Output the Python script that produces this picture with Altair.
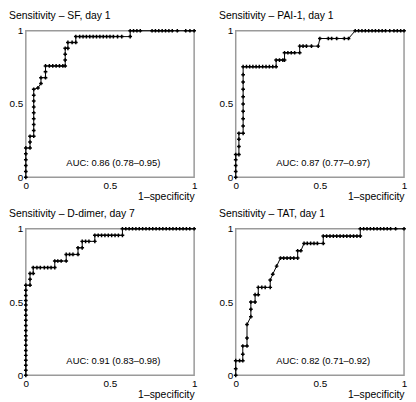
import altair as alt
import pandas as pd

FONT = "Liberation Sans"

titles = [
    "Sensitivity – SF, day 1",
    "Sensitivity – PAI-1, day 1",
    "Sensitivity – D-dimer, day 7",
    "Sensitivity – TAT, day 1",
]
auc_labels = [
    "AUC: 0.86 (0.78–0.95)",
    "AUC: 0.87 (0.77–0.97)",
    "AUC: 0.91 (0.83–0.98)",
    "AUC: 0.82 (0.71–0.92)",
]
x_title = "1–specificity"
tick_values = [0, 0.5, 1]

# (1-specificity, sensitivity) points
sf_points = [
    (0, 0), (0, 0.04), (0, 0.08), (0, 0.12), (0, 0.16), (0, 0.2),
    (0.025, 0.2), (0.025, 0.24), (0.025, 0.28),
    (0.047, 0.28), (0.047, 0.32), (0.047, 0.36), (0.047, 0.40), (0.047, 0.44),
    (0.047, 0.48), (0.047, 0.52), (0.047, 0.56), (0.047, 0.60),
    (0.072, 0.61), (0.09, 0.64), (0.09, 0.68),
    (0.117, 0.68), (0.117, 0.72), (0.117, 0.76),
    (0.14, 0.76), (0.16, 0.76), (0.18, 0.76), (0.20, 0.76), (0.22, 0.76), (0.234, 0.76),
    (0.234, 0.80), (0.234, 0.84), (0.234, 0.88),
    (0.25, 0.88), (0.25, 0.92), (0.275, 0.92), (0.297, 0.92), (0.297, 0.96),
    (0.32, 0.96), (0.34, 0.96), (0.36, 0.96), (0.38, 0.96), (0.40, 0.96), (0.42, 0.96),
    (0.44, 0.96), (0.46, 0.96), (0.48, 0.96), (0.50, 0.96), (0.52, 0.96), (0.545, 0.96),
    (0.57, 0.96), (0.62, 0.96),
    (0.62, 1.0), (0.64, 1.0), (0.66, 1.0), (0.68, 1.0),
    (0.75, 1.0), (0.77, 1.0), (0.79, 1.0), (0.81, 1.0), (0.83, 1.0), (0.85, 1.0),
    (0.87, 1.0), (0.90, 1.0), (0.95, 1.0), (0.975, 1.0), (1.0, 1.0),
]
pai_points = [
    (0, 0), (0, 0.04), (0, 0.08), (0, 0.12), (0, 0.155),
    (0.019, 0.155), (0.019, 0.21), (0.019, 0.26), (0.019, 0.30),
    (0.044, 0.30), (0.044, 0.35), (0.044, 0.40), (0.044, 0.45), (0.044, 0.50),
    (0.044, 0.55), (0.044, 0.60), (0.044, 0.65), (0.044, 0.70), (0.044, 0.755),
    (0.064, 0.755), (0.083, 0.755), (0.102, 0.755), (0.121, 0.755), (0.14, 0.755),
    (0.16, 0.755), (0.18, 0.755), (0.20, 0.755), (0.22, 0.755), (0.24, 0.755),
    (0.24, 0.80), (0.26, 0.80), (0.28, 0.80),
    (0.29, 0.80), (0.29, 0.85), (0.31, 0.85), (0.33, 0.85), (0.35, 0.85), (0.38, 0.85),
    (0.38, 0.895), (0.40, 0.895), (0.42, 0.895), (0.45, 0.895), (0.49, 0.895),
    (0.50, 0.947), (0.55, 0.947), (0.57, 0.947), (0.60, 0.947), (0.645, 0.947), (0.67, 0.947),
    (0.71, 1.0), (0.73, 1.0), (0.75, 1.0), (0.77, 1.0), (0.79, 1.0), (0.81, 1.0),
    (0.83, 1.0), (0.85, 1.0), (0.87, 1.0), (0.89, 1.0), (0.915, 1.0), (0.94, 1.0),
    (0.96, 1.0), (0.98, 1.0), (1.0, 1.0),
]
dd_points = [
    (0, 0), (0, 0.034), (0, 0.068), (0, 0.102), (0, 0.136), (0, 0.17), (0, 0.205),
    (0, 0.24), (0, 0.27), (0, 0.305), (0, 0.34), (0, 0.375), (0, 0.41), (0, 0.445),
    (0, 0.48), (0, 0.51), (0, 0.545), (0, 0.58), (0, 0.615),
    (0.025, 0.615), (0.025, 0.655), (0.025, 0.695), (0.044, 0.695), (0.044, 0.735),
    (0.066, 0.735), (0.086, 0.735), (0.11, 0.735), (0.13, 0.735), (0.15, 0.735), (0.172, 0.735),
    (0.172, 0.78), (0.19, 0.78), (0.21, 0.78), (0.24, 0.78),
    (0.24, 0.825), (0.26, 0.825), (0.28, 0.825), (0.31, 0.825),
    (0.31, 0.87), (0.335, 0.87), (0.335, 0.914), (0.355, 0.914), (0.375, 0.914), (0.41, 0.914),
    (0.41, 0.955), (0.43, 0.955), (0.45, 0.955), (0.47, 0.955), (0.49, 0.955),
    (0.51, 0.955), (0.53, 0.955), (0.55, 0.955), (0.574, 0.955),
    (0.574, 1.0), (0.594, 1.0), (0.614, 1.0), (0.634, 1.0), (0.654, 1.0), (0.674, 1.0),
    (0.694, 1.0), (0.714, 1.0), (0.734, 1.0), (0.754, 1.0), (0.774, 1.0), (0.794, 1.0),
    (0.814, 1.0), (0.834, 1.0), (0.854, 1.0), (0.874, 1.0), (0.894, 1.0), (0.914, 1.0),
    (0.934, 1.0), (0.954, 1.0), (0.974, 1.0), (1.0, 1.0),
]
tat_points = [
    (0, 0), (0, 0.044), (0, 0.10), (0.023, 0.10), (0.042, 0.10),
    (0.042, 0.144), (0.042, 0.20), (0.067, 0.20), (0.067, 0.254), (0.067, 0.347),
    (0.09, 0.40), (0.09, 0.45), (0.09, 0.50), (0.115, 0.50), (0.115, 0.55),
    (0.134, 0.55), (0.134, 0.60), (0.155, 0.60), (0.175, 0.60), (0.205, 0.60),
    (0.205, 0.65), (0.22, 0.69), (0.243, 0.745), (0.266, 0.80),
    (0.285, 0.80), (0.305, 0.80), (0.325, 0.80), (0.345, 0.80), (0.368, 0.80),
    (0.368, 0.85), (0.387, 0.85), (0.406, 0.90), (0.425, 0.90), (0.445, 0.90),
    (0.465, 0.90), (0.485, 0.90), (0.52, 0.90),
    (0.52, 0.95), (0.54, 0.95), (0.56, 0.95), (0.58, 0.95), (0.60, 0.95), (0.62, 0.95),
    (0.64, 0.95), (0.66, 0.95), (0.68, 0.95), (0.70, 0.95), (0.72, 0.95), (0.74, 0.95),
    (0.74, 1.0), (0.76, 1.0), (0.78, 1.0), (0.80, 1.0), (0.82, 1.0), (0.84, 1.0),
    (0.86, 1.0), (0.88, 1.0), (0.90, 1.0), (0.92, 1.0), (0.95, 1.0), (1.0, 1.0),
]

W, H = 170, 148


def panel(points, title, auc):
    df = pd.DataFrame(points, columns=["fpr", "tpr"])
    df["i"] = range(len(df))
    lab = pd.DataFrame({"fpr": [0.52], "tpr": [0.1], "t": [auc]})
    x = alt.X(
        "fpr:Q",
        scale=alt.Scale(domain=[0, 1], nice=False, zero=False),
        axis=alt.Axis(values=tick_values, format="~g", title=x_title,
                      titleAnchor="end", titleAlign="right", labelFlush=False),
    )
    y = alt.Y(
        "tpr:Q",
        scale=alt.Scale(domain=[0, 1], nice=False, zero=False),
        axis=alt.Axis(values=tick_values, format="~g", title=None),
    )
    line = alt.Chart(df).mark_line(color="black", strokeWidth=1).encode(
        x=x, y=y, order="i:Q")
    pts = alt.Chart(df).mark_point(shape="cross", size=14, filled=True,
                                   color="black", opacity=1).encode(x=x, y=y)
    txt = alt.Chart(lab).mark_text(font=FONT, fontSize=9.5, color="black").encode(
        x=x, y=y, text="t:N")
    return alt.layer(line, pts, txt).properties(
        width=W, height=H,
        title=alt.TitleParams(title, anchor="start", frame="bounds"),
    )


p1 = panel(sf_points, titles[0], auc_labels[0])
p2 = panel(pai_points, titles[1], auc_labels[1])
p3 = panel(dd_points, titles[2], auc_labels[2])
p4 = panel(tat_points, titles[3], auc_labels[3])

chart = alt.vconcat(
    alt.hconcat(p1, p2, spacing=20),
    alt.hconcat(p3, p4, spacing=20),
    spacing=5,
).properties(padding=0).configure_view(
    stroke="#9a9a9a", strokeWidth=1.5
).configure_axis(
    domain=False, ticks=False, grid=False,
    labelFont=FONT, labelFontSize=10, labelColor="black", labelPadding=3,
    titleFont=FONT, titleFontSize=10.5, titleFontWeight="normal",
    titleColor="black", titlePadding=1,
).configure_title(
    font=FONT, fontSize=10.5, fontWeight="normal", color="black", offset=0,
)

chart.save("out.html", embed_options={"renderer": "svg", "actions": False})
